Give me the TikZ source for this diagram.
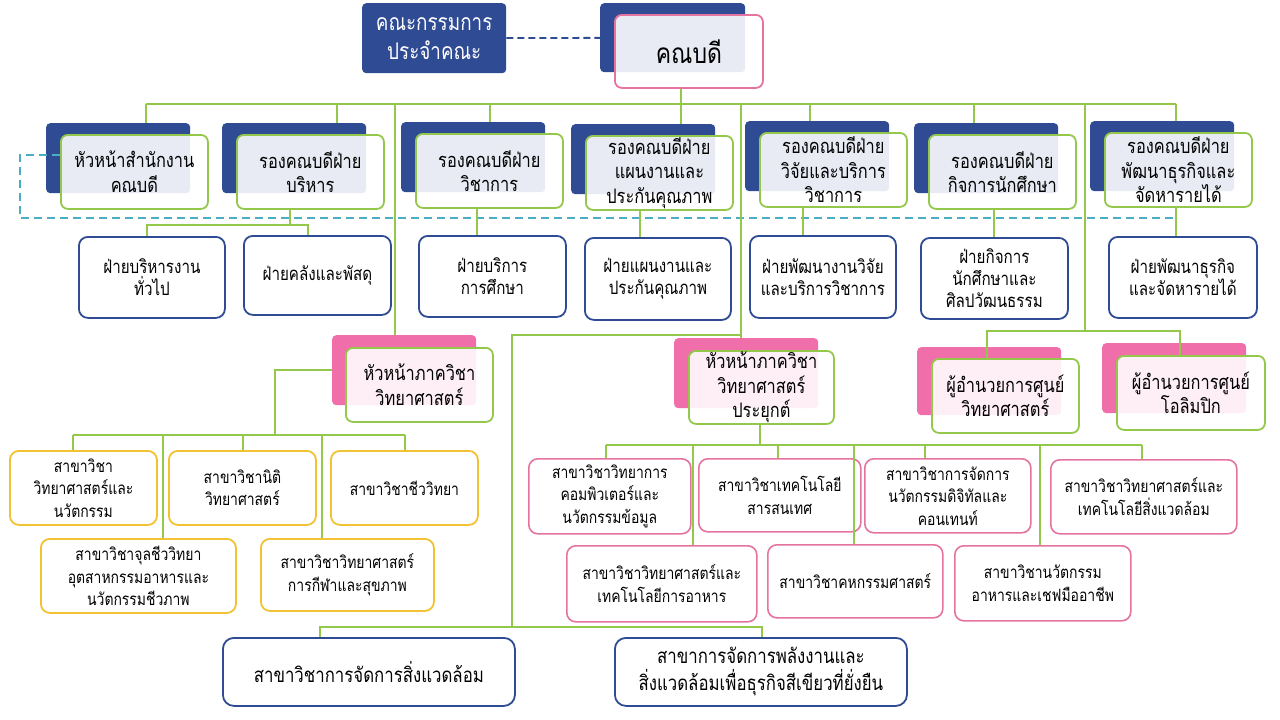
\documentclass[tikz,border=0pt]{standalone}
\usepackage{fontspec}
\setmainfont{Loma}[Script=Thai,FakeStretch=0.82]
\usetikzlibrary{calc}
\definecolor{deepblue}{HTML}{2F4B93}
\definecolor{leaf}{HTML}{94C84B}
\definecolor{rose}{HTML}{E5739F}
\definecolor{rosefill}{HTML}{F06EA9}
\definecolor{gold}{HTML}{F3C232}
\definecolor{skyline}{HTML}{4BACC6}
\tikzset{
  backblue/.style={fill=deepblue, rounded corners=4pt, anchor=north west, minimum width=144pt, minimum height=70pt, inner sep=0pt, align=center},
  backpink/.style={backblue, fill=rosefill},
  frontbox/.style={draw=leaf, line width=1.8pt, fill=white, fill opacity=0.89, text opacity=1, rounded corners=7pt, anchor=north west, minimum width=147pt, minimum height=74pt, inner sep=0pt, align=center, font=\fontsize{20}{24.5}\selectfont},
  unitbox/.style={draw=deepblue, line width=1.8pt, fill=white, rounded corners=9pt, anchor=north west, minimum width=147pt, minimum height=81pt, inner sep=0pt, align=center, font=\fontsize{18.5}{22}\selectfont},
  subject/.style={unitbox, draw=gold, minimum height=74pt, font=\fontsize{17}{22.5}\selectfont},
  appsubj/.style={subject, draw=rose, line width=1.6pt},
  link/.style={draw=leaf, line width=1.8pt},
  staffline/.style={draw=skyline, line width=1.8pt, dash pattern=on 8pt off 5pt}
}
\begin{document}
\begin{tikzpicture}[x=1pt, y=-1pt]
			%%%%% TOP %%%%%
			\fill[white] (0,0) rectangle (1280,720);
			\useasboundingbox (0,0) rectangle (1280,720);
			
			\node[backblue, text=white, font=\fontsize{23}{29}\selectfont] (kk) at (362,3) {คณะกรรมการ\\ประจำคณะ};
			\node[backblue, minimum width=145pt, minimum height=69pt] (deanb) at (600,3) {};
			\node[frontbox, draw=rose, minimum width=148pt, minimum height=73pt, font=\fontsize{28}{30}\selectfont] (dean) at (614,14) {คณบดี};
			\draw[deepblue, line width=1.8pt, dash pattern=on 7pt off 4pt] (kk) -- (deanb);
			
			%%%%% DEPUTIES %%%%%
			\node[backblue] (hnsb) at (46,123) {};
			\node[frontbox] (hns) at (60,134) {หัวหน้าสำนักงาน\\คณบดี};
			\node[backblue] (rbrb) at (222,123) {};
			\node[frontbox] (rbr) at (236,134) {รองคณบดีฝ่าย\\บริหาร};
			\node[backblue] (rwcb) at (401,122) {};
			\node[frontbox] (rwc) at (415,133) {รองคณบดีฝ่าย\\วิชาการ};
			\node[backblue] (rplb) at (571,124) {};
			\node[frontbox] (rpl) at (585,135) {รองคณบดีฝ่าย\\แผนงานและ\\ประกันคุณภาพ};
			\node[backblue] (rwjb) at (745,121) {};
			\node[frontbox] (rwj) at (759,132) {รองคณบดีฝ่าย\\วิจัยและบริการ\\วิชาการ};
			\node[backblue] (rksb) at (914,123) {};
			\node[frontbox] (rks) at (928,134) {รองคณบดีฝ่าย\\กิจการนักศึกษา};
			\node[backblue] (rptb) at (1090,121) {};
			\node[frontbox] (rpt) at (1104,132) {รองคณบดีฝ่าย\\พัฒนาธุรกิจและ\\จัดหารายได้};
			
			%%%%% UNITS %%%%%
			\node[unitbox, minimum width=146pt] (fbr) at (78,236) {ฝ่ายบริหารงาน\\ทั่วไป};
			\node[unitbox, minimum height=79pt] (fkl) at (243,235) {ฝ่ายคลังและพัสดุ};
			\node[unitbox] (fbk) at (418,235) {ฝ่ายบริการ\\การศึกษา};
			\node[unitbox, minimum width=146pt, minimum height=82pt] (fpn) at (584,237) {ฝ่ายแผนงานและ\\ประกันคุณภาพ};
			\node[unitbox, minimum width=146pt, minimum height=82pt] (fwj) at (749,235) {ฝ่ายพัฒนางานวิจัย\\และบริการวิชาการ};
			\node[unitbox] (fks) at (920,237) {ฝ่ายกิจการ\\นักศึกษาและ\\ศิลปวัฒนธรรม};
			\node[unitbox, minimum width=148pt] (fpt) at (1108,236) {ฝ่ายพัฒนาธุรกิจ\\และจัดหารายได้};
			
			%%%%% DEPARTMENTS %%%%%
			\node[backpink] (pvsb) at (332,335) {};
			\node[frontbox] (pvs) at (345,347) {หัวหน้าภาควิชา\\วิทยาศาสตร์};
			\node[backpink] (pvpb) at (674,338) {};
			\node[frontbox, minimum width=145pt, minimum height=73pt] (pvp) at (688,350) {หัวหน้าภาควิชา\\วิทยาศาสตร์\\ประยุกต์};
			\node[backpink, minimum height=68pt] (drc1b) at (917,347) {};
			\node[frontbox] (drc1) at (931,358) {ผู้อำนวยการศูนย์\\วิทยาศาสตร์};
			\node[backpink] (drc2b) at (1102,343) {};
			\node[frontbox, minimum width=148pt] (drc2) at (1116,355) {ผู้อำนวยการศูนย์\\โอลิมปิก};
			
			%%%%% SCIENCE %%%%%
			\node[subject] (ys1) at (9,450) {สาขาวิชา\\วิทยาศาสตร์และ\\นวัตกรรม};
			\node[subject] (ys2) at (168,450) {สาขาวิชานิติ\\วิทยาศาสตร์};
			\node[subject] (ys3) at (330,450) {สาขาวิชาชีววิทยา};
			\node[subject, minimum width=195pt] (ys4) at (40,538) {สาขาวิชาจุลชีววิทยา\\อุตสาหกรรมอาหารและ\\นวัตกรรมชีวภาพ};
			\node[subject, minimum width=173pt, minimum height=72pt] (ys5) at (260,538) {สาขาวิชาวิทยาศาสตร์\\การกีฬาและสุขภาพ};
			
			%%%%% APPLIED SCIENCE %%%%%
			\node[appsubj, minimum width=162pt, minimum height=75pt] (ap1) at (528,458) {สาขาวิชาวิทยาการ\\คอมพิวเตอร์และ\\นวัตกรรมข้อมูล};
			\node[appsubj, minimum width=162pt, minimum height=73pt] (ap2) at (698,458) {สาขาวิชาเทคโนโลยี\\สารสนเทศ};
			\node[appsubj, minimum width=166pt] (ap3) at (864,458) {สาขาวิชาการจัดการ\\นวัตกรรมดิจิทัลและ\\คอนเทนท์};
			\node[appsubj, minimum width=186pt] (ap4) at (1050,459) {สาขาวิชาวิทยาศาสตร์และ\\เทคโนโลยีสิ่งแวดล้อม};
			\node[appsubj, minimum width=190pt, minimum height=76pt] (ap5) at (566,545) {สาขาวิชาวิทยาศาสตร์และ\\เทคโนโลยีการอาหาร};
			\node[appsubj, minimum width=175pt, minimum height=73pt] (ap6) at (767,544) {สาขาวิชาคหกรรมศาสตร์};
			\node[appsubj, minimum width=176pt, minimum height=75pt] (ap7) at (954,545) {สาขาวิชานวัตกรรม\\อาหารและเชฟมืออาชีพ};
			
			%%%%% ENVIRONMENT %%%%%
			\node[unitbox, minimum width=292pt, minimum height=68pt, rounded corners=11pt, font=\fontsize{20.5}{27}\selectfont] (ev1) at (222,637) {สาขาวิชาการจัดการสิ่งแวดล้อม};
			\node[unitbox, minimum width=292pt, minimum height=68pt, rounded corners=11pt, font=\fontsize{20.5}{27}\selectfont] (ev2) at (614,637) {สาขาการจัดการพลังงานและ\\สิ่งแวดล้อมเพื่อธุรกิจสีเขียวที่ยั่งยืน};
			
			%%%%% LINKS %%%%%
			\coordinate (busL) at (146,104);
			\coordinate (busR) at (1176,104);
			\coordinate (dk) at (681,104);
			\draw[link] (busL) -- (busR);
			\draw[link] (dk |- dean.south) -- (dk |- rplb.north);
			\draw[link] (busL) -- (busL |- hnsb.north);
			\draw[link] (337,104) -- (337,104 |- rbrb.north);
			\draw[link] (490,104) -- (490,104 |- rwcb.north);
			\draw[link] (810,104) -- (810,104 |- rwjb.north);
			\draw[link] (974,104) -- (974,104 |- rksb.north);
			\draw[link] (busR) -- (busR |- rptb.north);
			
			\coordinate (dsA) at (20,155);
			\coordinate (dsB) at (20,218);
			\coordinate (dsC) at (1176,218);
			\draw[staffline] (dsA -| hns.west) -- (dsA) -- (dsB) -- (dsC);
			
			\coordinate (brJ) at (290,225);
			\coordinate (brL) at (147,225);
			\coordinate (brR) at (308,225);
			\draw[link] (brJ |- rbr.south) -- (brJ);
			\draw[link] (brL |- fbr.north) -- (brL) -- (brR) -- (brR |- fkl.north);
			\draw[link] (477,220 |- rwc.south) -- (477,220 |- fbk.north);
			\draw[link] (640,220 |- rpl.south) -- (640,220 |- fpn.north);
			\draw[link] (803,220 |- rwj.south) -- (803,220 |- fwj.north);
			\draw[link] (994,220 |- rks.south) -- (994,220 |- fks.north);
			\draw[link] (busR |- rpt.south) -- (busR |- fpt.north);
			
			\coordinate (t1) at (395,104);
			\coordinate (t2) at (741,104);
			\coordinate (t3) at (1085,104);
			\draw[link] (t1) -- (t1 |- pvsb.north);
			\draw[link] (t2) -- (t2 |- pvpb.north);
			
			\coordinate (dirL) at (987,331);
			\coordinate (dirR) at (1180,331);
			\draw[link] (t3) -- (t3 |- dirL);
			\draw[link] (dirL |- drc1.north) -- (dirL) -- (dirR) -- (dirR |- drc2.north);
			
			\coordinate (sJ) at (275,435);
			\coordinate (sL) at (73,435);
			\coordinate (sR) at (405,435);
			\draw[link] (pvsb.west) -- (pvsb.west -| sJ) -- (sJ);
			\draw[link] (sL) -- (sR);
			\draw[link] (sL) -- (sL |- ys1.north);
			\draw[link] (163,435) -- (163,435 |- ys4.north);
			\draw[link] (243,435) -- (243,435 |- ys2.north);
			\draw[link] (322,435) -- (322,435 |- ys5.north);
			\draw[link] (sR) -- (sR |- ys3.north);
			
			\coordinate (aJ) at (760,445);
			\coordinate (aL) at (606,445);
			\coordinate (aR) at (1142,445);
			\draw[link] (aJ |- pvp.south) -- (aJ);
			\draw[link] (aL) -- (aR);
			\draw[link] (aL) -- (aL |- ap1.north);
			\draw[link] (778,445) -- (778,445 |- ap2.north);
			\draw[link] (925,445) -- (925,445 |- ap3.north);
			\draw[link] (aR) -- (aR |- ap4.north);
			\draw[link] (693,445) -- (693,445 |- ap5.north);
			\draw[link] (854,445) -- (854,445 |- ap6.north);
			\draw[link] (1040,445) -- (1040,445 |- ap7.north);
			
			\coordinate (eA) at (512,335);
			\coordinate (eL) at (320,627);
			\coordinate (eR) at (762,627);
			\draw[link] (t2 |- eA) -- (eA) -- (eA |- eL);
			\draw[link] (eL |- ev1.north) -- (eL) -- (eR) -- (eR |- ev2.north);
			
			%%%%% END %%%%%
\end{tikzpicture}
\end{document}
